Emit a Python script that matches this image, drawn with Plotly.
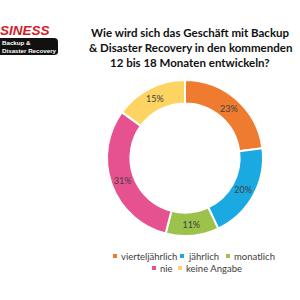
import plotly.graph_objects as go

categories = ["vierteljährlich", "jährlich", "monatlich", "nie", "keine Angabe"]
values = [23, 20, 11, 31, 15]
colors = ["#EE7B30", "#1BA9E2", "#9DC24B", "#E65290", "#FDD462"]
title_lines = ["Wie wird sich das Geschäft mit Backup",
               "& Disaster Recovery in den kommenden",
               "12 bis 18 Monaten entwickeln?"]

W, H = 300, 300
def px(x): return x / W
def py(y): return 1 - y / H

fig = go.Figure()
fig.add_trace(go.Pie(
    labels=categories, values=values, sort=False, direction="clockwise",
    hole=0.70, marker=dict(colors=colors, line=dict(color="white", width=2)),
    texttemplate="%{percent:.0%}", textposition="inside", insidetextorientation="horizontal",
    textfont=dict(size=9, color="#404040", family="Lato"),
    domain=dict(x=[px(107), px(263)], y=[py(236), py(80)]),
    showlegend=False, hoverinfo="label+percent",
))

# title
for i, line in enumerate(title_lines):
    fig.add_annotation(x=px(190), y=py(32 + i * 15), xref="paper", yref="paper",
                       text=f"<b>{line}</b>", showarrow=False, xanchor="center", yanchor="middle",
                       font=dict(size=11.5, color="#111111", family="Lato"))

# logo
fig.add_annotation(x=px(-1), y=py(30.5), xref="paper", yref="paper", text="<b><i>SINESS</i></b>",
                   showarrow=False, xanchor="left", yanchor="middle", borderpad=0,
                   font=dict(size=13.5, color="#D0202A", family="Liberation Sans"))
fig.add_shape(type="path", xref="paper", yref="paper",
              path=f"M 0 {py(38)} L {px(54)} {py(38)} Q {px(58)} {py(38)} {px(58)} {py(42)} L {px(58)} {py(52)} Q {px(58)} {py(55)} {px(54)} {py(55)} L 0 {py(55)} Z",
              fillcolor="#111111", line=dict(width=0))
fig.add_annotation(x=px(0.5), y=py(46.5), xref="paper", yref="paper",
                   text="<b>Backup &amp;</b><br><b>Disaster Recovery</b>",
                   showarrow=False, xanchor="left", yanchor="middle", align="left", borderpad=0,
                   font=dict(size=6.2, color="white", family="Liberation Sans"))

# legend (manual, centered rows)
rows = [[0, 1, 2], [3, 4]]
row_x = [[113, 180, 226], [152, 178]]
row_y = [256, 268]
for r, idxs in enumerate(rows):
    for k, i in enumerate(idxs):
        x0 = row_x[r][k]
        y0 = row_y[r]
        fig.add_shape(type="rect", xref="paper", yref="paper",
                      x0=px(x0), x1=px(x0 + 4), y0=py(y0 + 2), y1=py(y0 - 2),
                      fillcolor=colors[i], line=dict(width=0))
        fig.add_annotation(x=px(x0 + 6), y=py(y0), xref="paper", yref="paper", text=categories[i],
                           showarrow=False, xanchor="left", yanchor="middle",
                           font=dict(size=9.5, color="#404040", family="Lato"))

fig.update_layout(width=W, height=H, margin=dict(l=0, r=0, t=0, b=0),
                  paper_bgcolor="white", plot_bgcolor="white")
fig.write_html("out.html")
